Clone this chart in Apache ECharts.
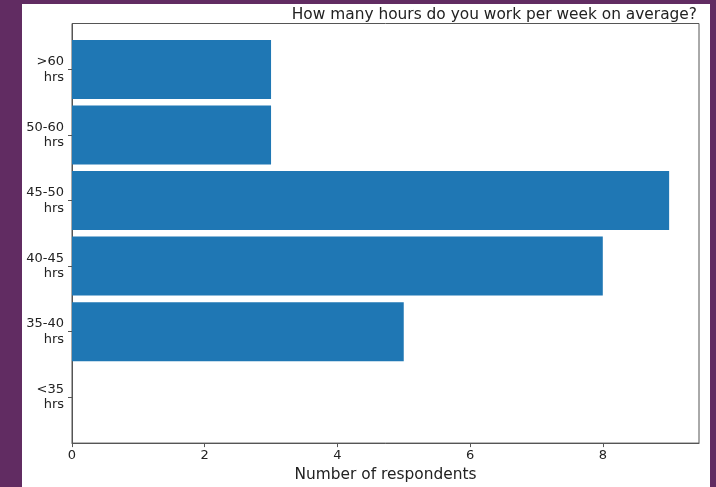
<!DOCTYPE html>
<html>
<head>
<meta charset="utf-8">
<script src="https://cdn.jsdelivr.net/npm/echarts@6/dist/echarts.min.js"></script>
<style>
  html, body { margin: 0; padding: 0; width: 716px; height: 487px; background: #612c62; overflow: hidden; }
  #chart { position: absolute; left: 22px; top: 4px; width: 688px; height: 483px; background: #ffffff; }
</style>
</head>
<body>
<div id="chart"></div>
<script>
// Categories bottom to top
const categories = ['<35\nhrs', '35-40\nhrs', '40-45\nhrs', '45-50\nhrs', '50-60\nhrs', '>60\nhrs'];
const respondents = [0, 5, 8, 9, 3, 3];
const xTicks = [0, 2, 4, 6, 8];
const yTicks = [0, 1, 2, 3, 4, 5];
const titleText = 'How many hours do you work per week on average?';
const xName = 'Number of respondents';

const chart = echarts.init(document.getElementById('chart'), null, { renderer: 'canvas' });
const font = 'DejaVu Sans';
const barHalf = 0.45;

const option = {
  backgroundColor: '#ffffff',
  animation: false,
  textStyle: { fontFamily: font },
  title: {
    text: titleText,
    right: 8,
    top: -2,
    textStyle: { fontFamily: font, fontSize: 15.4, fontWeight: 'normal', color: '#222' }
  },
  grid: {
    left: 50, right: 11, top: 19.5, bottom: 38.3,
    show: true, borderColor: '#555', borderWidth: 1, backgroundColor: 'transparent'
  },
  xAxis: {
    type: 'value',
    min: 0, max: 9.45,
    splitLine: { show: false },
    axisLine: { show: true, onZero: false, lineStyle: { color: '#555', width: 1 } },
    axisTick: { show: true, length: 4, lineStyle: { color: '#555' }, customValues: xTicks },
    axisLabel: { customValues: xTicks, fontSize: 13, color: '#222', margin: 6, fontFamily: font },
    name: xName,
    nameLocation: 'middle',
    nameGap: 21,
    nameTextStyle: { fontSize: 15.4, color: '#222', fontFamily: font }
  },
  yAxis: {
    type: 'value',
    min: -0.70, max: 5.70,
    splitLine: { show: false },
    axisLine: { show: true, onZero: false, lineStyle: { color: '#555', width: 1 } },
    axisTick: { show: true, length: 4, lineStyle: { color: '#555' }, customValues: yTicks },
    axisLabel: {
      customValues: yTicks,
      formatter: v => categories[Math.round(v)],
      fontSize: 13, color: '#222', margin: 8, lineHeight: 15.5, align: 'right', fontFamily: font
    }
  },
  series: [{
    type: 'custom',
    data: respondents.map((v, i) => [v, i]),
    encode: { x: 0, y: 1 },
    renderItem: function (params, api) {
      const v = api.value(0), i = api.value(1);
      const p0 = api.coord([0, i + barHalf]);
      const p1 = api.coord([v, i - barHalf]);
      return {
        type: 'rect',
        shape: { x: p0[0], y: p0[1], width: p1[0] - p0[0], height: p1[1] - p0[1] },
        style: { fill: '#1f77b4' }
      };
    }
  }]
};
chart.setOption(option);
</script>
</body>
</html>
